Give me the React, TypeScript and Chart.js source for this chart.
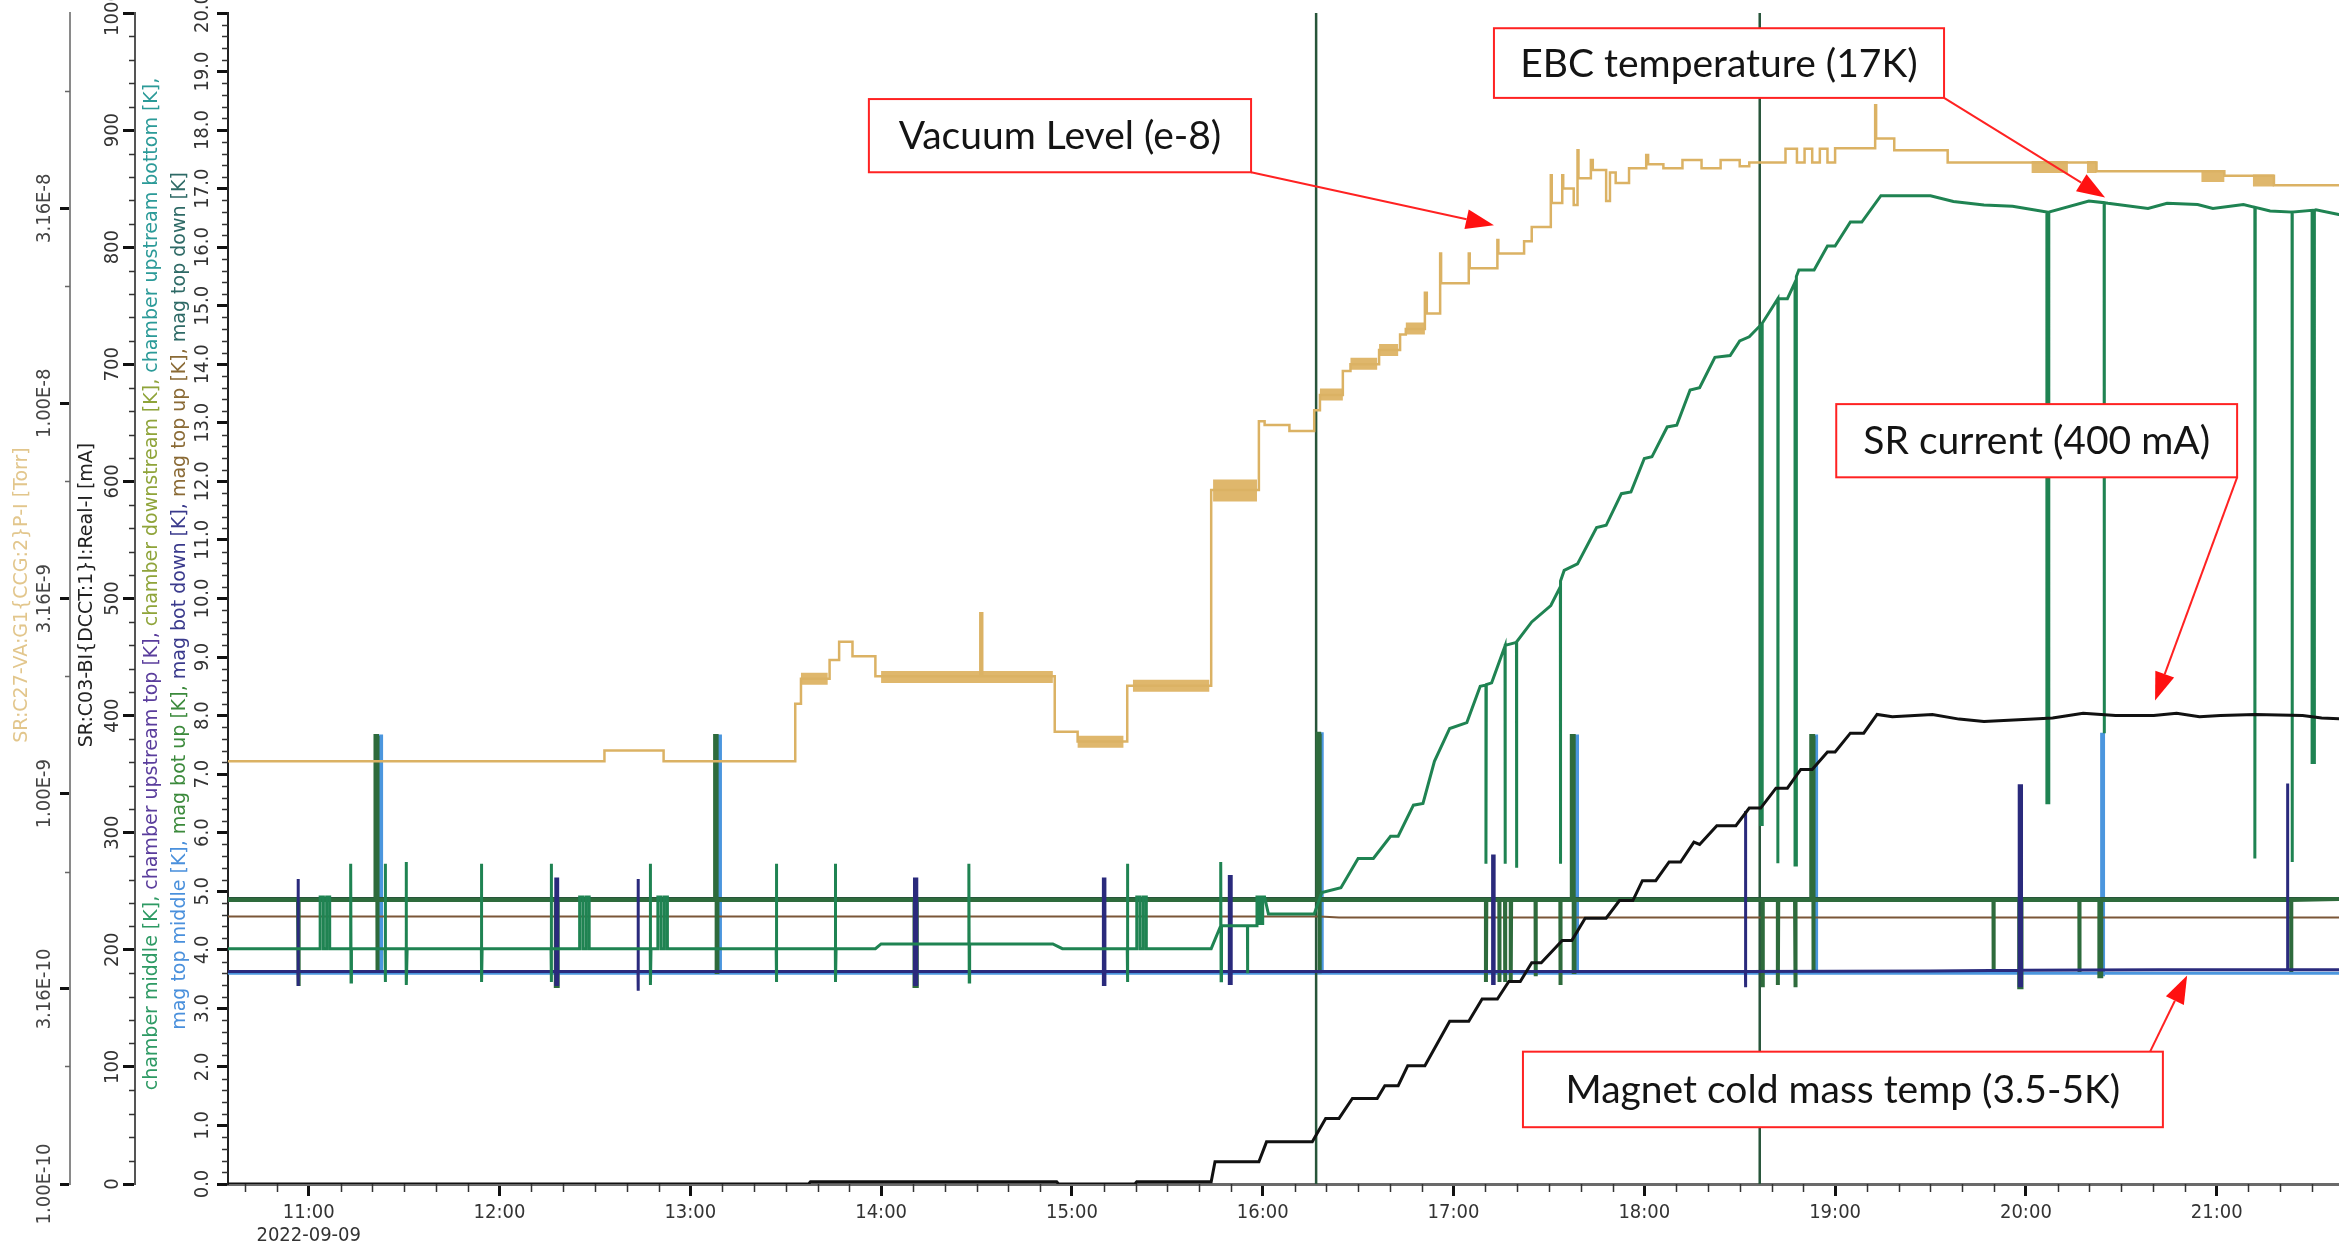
import { useEffect, useRef } from 'react';
import { Chart, registerables } from 'chart.js';

Chart.register(...registerables);

// ---------------- axes: ranges, ticks, labels ----------------
const X_MIN = 10.577; // hours of day
const X_MAX = 21.641;
const HOUR_TICKS = [11, 12, 13, 14, 15, 16, 17, 18, 19, 20, 21];
const HOUR_LABELS = ['11:00', '12:00', '13:00', '14:00', '15:00', '16:00', '17:00', '18:00', '19:00', '20:00', '21:00'];
const DATE_LABEL = '2022-09-09';

const VAC_MIN = 1e-10;
const VAC_MAX = 1e-7;
const VAC_TICKS = [1e-10, 3.16e-10, 1e-9, 3.16e-9, 1e-8, 3.16e-8];
const VAC_TICK_LABELS = ['1.00E-10', '3.16E-10', '1.00E-9', '3.16E-9', '1.00E-8', '3.16E-8'];
const VAC_MINOR = [2e-10, 6.31e-10, 2e-9, 6.31e-9, 2e-8, 6.31e-8];

const MA_TICKS = [0, 100, 200, 300, 400, 500, 600, 700, 800, 900, 1000];
const MA_TICK_LABELS = ['0', '100', '200', '300', '400', '500', '600', '700', '800', '900', '1000'];

const K_TICKS = [0, 1, 2, 3, 4, 5, 6, 7, 8, 9, 10, 11, 12, 13, 14, 15, 16, 17, 18, 19, 20];
const K_TICK_LABELS = ['0.0', '1.0', '2.0', '3.0', '4.0', '5.0', '6.0', '7.0', '8.0', '9.0', '10.0', '11.0', '12.0', '13.0', '14.0', '15.0', '16.0', '17.0', '18.0', '19.0', '20.0'];

const VAC_TITLE = 'SR:C27-VA:G1{CCG:2}P-I [Torr]';
const MA_TITLE = 'SR:C03-BI{DCCT:1}I:Real-I [mA]';
const K_TITLE_LINE1 = [
  ['chamber middle [K], ', '#2e9a64'],
  ['chamber upstream top [K], ', '#5a3d9c'],
  ['chamber downstream [K], ', '#8fa43a'],
  ['chamber upstream bottom [K],', '#2b9a98'],
];
const K_TITLE_LINE2 = [
  ['mag top middle [K], ', '#4a90dc'],
  ['mag bot up [K], ', '#3c8a3c'],
  ['mag bot down [K], ', '#3a3a8c'],
  ['mag top up [K], ', '#8a6a35'],
  ['mag top down [K]', '#2e6a66'],
];

// ---------------- series: [hour, value] ----------------
const SR_CURRENT = [
  [10.5, 0], [13.62, 0], [13.63, 2], [14.92, 2], [14.93, 0], [15.33, 0], [15.34, 2], [15.73, 2],
  [15.75, 19], [15.98, 19], [16.02, 36], [16.26, 36], [16.33, 56], [16.40, 56], [16.47, 73], [16.60, 73],
  [16.64, 84], [16.71, 84], [16.76, 101], [16.85, 101], [16.98, 139], [17.08, 139], [17.15, 158], [17.23, 158],
  [17.29, 173], [17.35, 173], [17.41, 189], [17.46, 189], [17.57, 208], [17.62, 208], [17.69, 227], [17.80, 227],
  [17.87, 242], [17.94, 242], [17.99, 259], [18.06, 259], [18.13, 275], [18.19, 275], [18.26, 292], [18.29, 290],
  [18.38, 306], [18.48, 306], [18.55, 321], [18.61, 321], [18.69, 338], [18.75, 338], [18.82, 354], [18.88, 354],
  [18.96, 369], [19.0, 369], [19.08, 385], [19.15, 385], [19.22, 401], [19.30, 399], [19.51, 401], [19.65, 397],
  [19.78, 395], [20.04, 397], [20.14, 398], [20.30, 402], [20.47, 400], [20.67, 400], [20.79, 402], [20.91, 399],
  [21.02, 400], [21.2, 401], [21.45, 400], [21.55, 398], [21.7, 397],
];

const CHAMBER_MIDDLE = [
  [10.5, 4.02],
  [11.06, 4.02], [11.06, 4.9], [11.077, 4.9], [11.077, 4.02], [11.094, 4.02], [11.094, 4.9], [11.11, 4.9], [11.11, 4.02],
  [11.22, 4.02], [11.22, 5.47], [11.222, 3.45], [11.224, 4.02],
  [11.40, 4.02], [11.40, 5.47], [11.402, 3.45], [11.404, 4.02],
  [11.51, 4.02], [11.51, 5.5], [11.513, 3.4], [11.516, 4.02],
  [11.905, 4.02], [11.905, 5.47], [11.907, 3.45], [11.909, 4.02],
  [12.27, 4.02], [12.27, 5.47], [12.272, 3.45], [12.274, 4.02],
  [12.42, 4.02], [12.42, 4.9], [12.437, 4.9], [12.437, 4.02], [12.454, 4.02], [12.454, 4.9], [12.47, 4.9], [12.47, 4.02],
  [12.79, 4.02], [12.79, 5.47], [12.792, 3.4], [12.794, 4.02],
  [12.83, 4.02], [12.83, 4.9], [12.847, 4.9], [12.847, 4.02], [12.864, 4.02], [12.864, 4.9], [12.88, 4.9], [12.88, 4.02],
  [13.45, 4.02], [13.45, 5.47], [13.452, 3.45], [13.454, 4.02],
  [13.76, 4.02], [13.76, 5.47], [13.762, 3.45], [13.764, 4.02],
  [13.97, 4.02], [14.0, 4.1],
  [14.46, 4.1], [14.46, 5.47], [14.462, 3.45], [14.464, 4.1],
  [14.9, 4.1], [14.95, 4.02],
  [15.29, 4.02], [15.29, 5.47], [15.292, 3.45], [15.294, 4.02],
  [15.34, 4.02], [15.34, 4.9], [15.357, 4.9], [15.357, 4.02], [15.374, 4.02], [15.374, 4.9], [15.39, 4.9], [15.39, 4.02],
  [15.73, 4.02], [15.78, 4.41], [15.78, 5.5], [15.782, 3.47], [15.784, 4.41],
  [15.92, 4.41], [15.92, 3.6], [15.922, 4.41],
  [15.97, 4.41], [15.97, 4.9], [15.985, 4.9], [15.985, 4.45], [16.0, 4.45], [16.0, 4.9], [16.01, 4.9], [16.03, 4.61],
  [16.27, 4.61], [16.31, 4.98], [16.41, 5.06], [16.50, 5.56], [16.58, 5.56], [16.67, 5.94], [16.71, 5.94],
  [16.79, 6.47], [16.84, 6.5], [16.90, 7.22], [16.98, 7.78], [17.07, 7.88], [17.14, 8.5],
  [17.17, 8.52], [17.17, 5.47], [17.172, 8.53],
  [17.20, 8.56], [17.27, 9.19], [17.27, 5.47], [17.272, 9.2],
  [17.33, 9.25], [17.33, 5.4], [17.332, 9.26],
  [17.41, 9.6], [17.51, 9.88],
  [17.56, 10.2], [17.56, 5.47], [17.562, 10.3],
  [17.58, 10.48], [17.65, 10.59], [17.75, 11.21], [17.80, 11.25], [17.88, 11.79], [17.93, 11.82], [18.0, 12.39],
  [18.04, 12.42], [18.12, 12.93], [18.17, 12.96], [18.24, 13.56], [18.29, 13.6], [18.37, 14.12], [18.45, 14.15],
  [18.5, 14.4], [18.55, 14.47],
  [18.61, 14.67], [18.61, 6.14], [18.618, 6.14], [18.618, 14.7],
  [18.70, 15.12], [18.70, 5.48], [18.702, 15.12],
  [18.75, 15.12],
  [18.79, 15.4], [18.79, 5.45], [18.797, 5.45], [18.797, 15.5],
  [18.81, 15.61], [18.89, 15.61], [18.96, 16.02], [19.0, 16.02], [19.08, 16.43], [19.14, 16.43], [19.24, 16.88],
  [19.5, 16.88], [19.62, 16.78], [19.78, 16.72], [19.93, 16.7], [20.11, 16.6],
  [20.11, 6.51], [20.12, 6.51], [20.12, 16.6],
  [20.33, 16.79], [20.41, 16.76], [20.41, 7.7], [20.412, 16.76],
  [20.43, 16.75], [20.64, 16.66], [20.74, 16.75], [20.9, 16.73], [20.98, 16.66], [21.14, 16.73],
  [21.2, 16.68], [21.2, 5.56], [21.202, 16.68],
  [21.28, 16.62], [21.395, 16.6], [21.395, 5.5], [21.397, 16.6],
  [21.5, 16.63], [21.5, 7.2], [21.512, 7.2], [21.512, 16.63], [21.52, 16.64], [21.64, 16.56], [21.7, 16.5],
];

const MAG_BOT_UP = [
  [10.5, 4.85],
  [10.944, 4.85], [10.944, 3.38], [10.949, 3.38], [10.949, 4.85],
  [11.35, 4.85], [11.35, 7.65], [11.358, 7.65], [11.358, 3.62], [11.362, 3.62], [11.362, 4.85],
  [12.295, 4.85], [12.295, 3.38], [12.305, 3.38], [12.305, 4.85],
  [13.13, 4.85], [13.13, 7.65], [13.138, 7.65], [13.138, 3.62], [13.142, 3.62], [13.142, 4.85],
  [14.175, 4.85], [14.175, 3.38], [14.187, 3.38], [14.187, 4.85],
  [16.288, 4.85], [16.288, 7.69], [16.296, 7.69], [16.296, 3.6], [16.3, 3.6], [16.3, 4.85],
  [17.17, 4.85], [17.17, 3.45], [17.172, 4.85],
  [17.24, 4.85], [17.24, 3.45], [17.242, 4.85],
  [17.27, 4.85], [17.27, 3.45], [17.272, 4.85],
  [17.30, 4.85], [17.30, 3.45], [17.302, 4.85],
  [17.43, 4.85], [17.43, 3.55], [17.432, 4.85],
  [17.56, 4.85], [17.56, 3.4], [17.562, 4.85],
  [17.62, 4.85], [17.62, 7.65], [17.63, 7.65], [17.63, 3.62], [17.634, 3.62], [17.634, 4.85],
  [18.62, 4.85], [18.62, 3.36], [18.622, 4.85],
  [18.70, 4.85], [18.70, 3.4], [18.702, 4.85],
  [18.79, 4.85], [18.79, 3.36], [18.794, 3.36], [18.794, 4.85],
  [18.875, 4.85], [18.875, 7.65], [18.885, 7.65], [18.885, 3.62], [18.888, 3.62], [18.888, 4.85],
  [19.83, 4.85], [19.83, 3.62], [19.832, 4.85],
  [19.965, 4.85], [19.965, 3.36], [19.977, 3.36], [19.977, 4.85],
  [20.28, 4.85], [20.28, 3.62], [20.282, 4.85],
  [20.385, 4.85], [20.385, 3.55], [20.395, 3.55], [20.395, 4.85],
  [21.39, 4.85], [21.39, 3.62], [21.392, 4.85],
  [21.7, 4.87],
];

const MAG_TOP_DOWN = [
  [10.5, 4.88], [16.28, 4.88], [16.28, -1], [16.28, 25], [16.28, 4.88],
  [18.605, 4.88], [18.605, -1], [18.605, 25], [18.605, 4.88], [21.7, 4.88],
];

const MAG_TOP_UP = [[10.5, 4.57], [16.3, 4.57], [16.4, 4.55], [21.7, 4.55]];

const MAG_BOT_DOWN = [
  [10.5, 3.63],
  [10.944, 3.63], [10.944, 3.38], [10.944, 5.21], [10.946, 5.21], [10.946, 3.63],
  [12.295, 3.63], [12.295, 3.38], [12.295, 5.21], [12.305, 5.21], [12.305, 3.38], [12.305, 3.63],
  [12.726, 3.63], [12.726, 3.3], [12.726, 5.21], [12.728, 5.21], [12.728, 3.63],
  [14.175, 3.63], [14.175, 3.38], [14.175, 5.21], [14.187, 5.21], [14.187, 3.38], [14.187, 3.63],
  [15.165, 3.63], [15.165, 3.38], [15.165, 5.21], [15.173, 5.21], [15.173, 3.38], [15.173, 3.63],
  [15.825, 3.63], [15.825, 3.4], [15.825, 5.25], [15.835, 5.25], [15.835, 3.4], [15.835, 3.63],
  [17.205, 3.63], [17.205, 3.4], [17.205, 5.6], [17.213, 5.6], [17.213, 3.4], [17.213, 3.63],
  [18.53, 3.63], [18.53, 3.36], [18.53, 6.37], [18.532, 6.37], [18.532, 3.63],
  [19.5, 3.64],
  [19.965, 3.65], [19.965, 3.36], [19.965, 6.8], [19.977, 6.8], [19.977, 3.36], [19.977, 3.65],
  [20.7, 3.66],
  [21.37, 3.66], [21.37, 6.84], [21.373, 6.84], [21.373, 3.66],
  [21.7, 3.66],
];

const MAG_TOP_MIDDLE = [
  [10.5, 3.6],
  [11.372, 3.6], [11.372, 7.65], [11.382, 7.65], [11.382, 3.6],
  [13.148, 3.6], [13.148, 7.65], [13.158, 7.65], [13.158, 3.6],
  [16.302, 3.6], [16.302, 7.69], [16.312, 7.69], [16.312, 3.6],
  [17.64, 3.6], [17.64, 7.65], [17.65, 7.65], [17.65, 3.6],
  [18.893, 3.6], [18.893, 7.65], [18.903, 7.65], [18.903, 3.6],
  [20.397, 3.6], [20.397, 7.68], [20.407, 7.68], [20.407, 3.55], [20.407, 3.6],
  [21.7, 3.6],
];

// vacuum (Torr), stepped: value holds until next point
const VACUUM = [
  [10.5, 1.21e-9], [12.55, 1.29e-9], [12.86, 1.21e-9], [13.55, 1.70e-9], [13.58, 1.97e-9], [13.73, 2.2e-9],
  [13.78, 2.45e-9], [13.85, 2.25e-9], [13.97, 2.0e-9], [14.52, 2.9e-9], [14.53, 2.0e-9], [14.91, 1.44e-9],
  [15.03, 1.36e-9], [15.29, 1.89e-9], [15.73, 6.0e-9], [15.98, 9.0e-9], [16.01, 8.8e-9], [16.14, 8.5e-9],
  [16.27, 9.6e-9], [16.30, 1.05e-8], [16.42, 1.21e-8], [16.46, 1.26e-8], [16.61, 1.37e-8], [16.72, 1.5e-8],
  [16.75, 1.55e-8], [16.85, 1.92e-8], [16.86, 1.7e-8], [16.93, 2.42e-8], [16.935, 2.03e-8], [17.08, 2.42e-8],
  [17.085, 2.22e-8], [17.23, 2.62e-8], [17.235, 2.42e-8], [17.37, 2.6e-8], [17.41, 2.83e-8], [17.51, 3.84e-8],
  [17.515, 3.26e-8], [17.57, 3.84e-8], [17.575, 3.55e-8], [17.63, 3.22e-8], [17.65, 4.45e-8], [17.655, 3.77e-8],
  [17.72, 4.2e-8], [17.73, 3.96e-8], [17.80, 3.3e-8], [17.82, 3.9e-8], [17.85, 3.67e-8], [17.92, 4.0e-8],
  [18.01, 4.33e-8], [18.02, 4.1e-8], [18.10, 4.0e-8], [18.2, 4.2e-8], [18.3, 4.0e-8], [18.4, 4.2e-8],
  [18.5, 4.05e-8], [18.55, 4.14e-8], [18.74, 4.49e-8], [18.80, 4.14e-8], [18.84, 4.49e-8], [18.88, 4.14e-8],
  [18.92, 4.49e-8], [18.96, 4.14e-8], [19.00, 4.5e-8], [19.21, 5.8e-8], [19.215, 4.77e-8], [19.31, 4.45e-8],
  [19.59, 4.14e-8], [20.37, 3.93e-8], [21.04, 3.83e-8], [21.30, 3.62e-8], [21.7, 3.62e-8],
];

// fast fluctuation bands of the vacuum reading: [from, to, low, high]
const VACUUM_BANDS = [
  [13.58, 13.72, 1.92e-9, 2.02e-9],
  [14.00, 14.90, 1.93e-9, 2.05e-9],
  [15.03, 15.27, 1.30e-9, 1.42e-9],
  [15.32, 15.72, 1.85e-9, 1.93e-9],
  [16.30, 16.42, 1.01e-8, 1.10e-8],
  [16.46, 16.60, 1.21e-8, 1.32e-8],
  [16.61, 16.71, 1.32e-8, 1.42e-8],
  [16.75, 16.85, 1.50e-8, 1.61e-8],
  [20.03, 20.22, 3.93e-8, 4.14e-8],
  [20.32, 20.37, 3.93e-8, 4.14e-8],
  [20.92, 21.04, 3.72e-8, 3.93e-8],
  [21.19, 21.30, 3.62e-8, 3.83e-8],
];
const VACUUM_WIDE_BANDS = [[15.74, 15.97, 5.5e-9, 6.5e-9]];

// ---------------- call-outs (hour, K coordinates) ----------------
const CALLOUTS = [
  { text: 'Vacuum Level (e-8)', box: [13.936, 18.53, 15.939, 17.28], from: [15.939, 17.28], to: [17.212, 16.376] },
  { text: 'EBC temperature (17K)', box: [17.212, 19.74, 19.571, 18.55], from: [19.571, 18.55], to: [20.415, 16.85] },
  { text: 'SR current (400 mA)', box: [19.006, 13.32, 21.107, 12.07], from: [21.107, 12.07], to: [20.677, 8.26] },
  { text: 'Magnet cold mass temp (3.5-5K)', box: [17.364, 2.26, 20.718, 0.97], from: [20.651, 2.26], to: [20.845, 3.56] },
];

// ---------------- helpers ----------------
const xy = (arr) => arr.map(([x, y]) => ({ x, y }));
const bandPoints = (bands) =>
  bands.flatMap(([t0, t1, lo, hi]) => {
    const m = Math.sqrt(lo * hi);
    return [{ x: t0, y: m }, { x: t1, y: m }, { x: t1, y: null }];
  });

const X_MINOR = [];
for (let h = 10; h <= 21; h++) {
  for (const m of [10, 20, 30, 40, 50]) {
    const v = h + m / 60;
    if (v > X_MIN && v < X_MAX) X_MINOR.push(v);
  }
}
const MA_MINOR = [];
for (let v = 20; v < 1000; v += 20) if (v % 100 !== 0) MA_MINOR.push(v);
const K_MINOR = [];
for (let i = 1; i < 100; i++) if (i % 5 !== 0) K_MINOR.push(i / 5);

const TICK_FAMILY = '"DejaVu Sans Condensed", "DejaVu Sans", sans-serif';
const TICK_FONT = `20px ${TICK_FAMILY}`;
const TITLE_FONT = '19px "DejaVu Sans"';
const CALLOUT_FONT = '39px Lato, "Open Sans", sans-serif';

function rotatedText(ctx, text, x, y, font, color) {
  ctx.save();
  ctx.translate(x, y);
  ctx.rotate(-Math.PI / 2);
  ctx.font = font;
  ctx.fillStyle = color;
  ctx.textAlign = 'center';
  ctx.textBaseline = 'middle';
  ctx.fillText(text, 0, 0);
  ctx.restore();
}

function rotatedMulti(ctx, parts, x, yCenter, font) {
  ctx.save();
  ctx.font = font;
  const widths = parts.map(([t]) => ctx.measureText(t).width);
  const total = widths.reduce((a, b) => a + b, 0);
  ctx.translate(x, yCenter);
  ctx.rotate(-Math.PI / 2);
  ctx.textAlign = 'left';
  ctx.textBaseline = 'middle';
  let pos = -total / 2;
  parts.forEach(([t, c], i) => {
    ctx.fillStyle = c;
    ctx.fillText(t, pos, 0);
    pos += widths[i];
  });
  ctx.restore();
}

function minorTicksLeft(ctx, scale, values, len, color, width) {
  ctx.save();
  ctx.strokeStyle = color;
  ctx.lineWidth = width;
  ctx.beginPath();
  for (const v of values) {
    const p = Math.round(scale.getPixelForValue(v)) + 0.5;
    ctx.moveTo(scale.right - len, p);
    ctx.lineTo(scale.right, p);
  }
  ctx.stroke();
  ctx.restore();
}

const decorPlugin = {
  id: 'decor',
  afterDraw(chart) {
    const ctx = chart.ctx;
    const { x, yVac, yI, yK } = chart.scales;

    // minor ticks
    minorTicksLeft(ctx, yVac, VAC_MINOR, 5, '#666', 1.5);
    minorTicksLeft(ctx, yI, MA_MINOR, 6, '#333', 1.5);
    minorTicksLeft(ctx, yK, K_MINOR, 6, '#333', 1.5);
    ctx.save();
    ctx.strokeStyle = '#333';
    ctx.lineWidth = 1.5;
    ctx.beginPath();
    for (const v of X_MINOR) {
      const p = Math.round(x.getPixelForValue(v)) + 0.5;
      ctx.moveTo(p, x.top);
      ctx.lineTo(p, x.top + 8);
    }
    ctx.stroke();
    ctx.restore();

    // tick labels
    VAC_TICKS.forEach((v, i) => rotatedText(ctx, VAC_TICK_LABELS[i], yVac.left + 45, yVac.getPixelForValue(v), TICK_FONT, '#444'));
    MA_TICKS.forEach((v, i) => rotatedText(ctx, MA_TICK_LABELS[i], yI.left + 43, yI.getPixelForValue(v), TICK_FONT, '#333'));
    K_TICKS.forEach((v, i) => rotatedText(ctx, K_TICK_LABELS[i], yK.left + 68, yK.getPixelForValue(v), TICK_FONT, '#333'));

    // axis titles
    rotatedText(ctx, VAC_TITLE, yVac.left + 22, 595, TITLE_FONT, '#e2c68c');
    rotatedText(ctx, MA_TITLE, yI.left + 17, 595, TITLE_FONT, '#222');
    rotatedMulti(ctx, K_TITLE_LINE1, yK.left + 17, 584, TITLE_FONT);
    rotatedMulti(ctx, K_TITLE_LINE2, yK.left + 45, 601, TITLE_FONT);

    // call-outs
    ctx.save();
    for (const c of CALLOUTS) {
      const x0 = x.getPixelForValue(c.box[0]);
      const y0 = yK.getPixelForValue(c.box[1]);
      const x1 = x.getPixelForValue(c.box[2]);
      const y1 = yK.getPixelForValue(c.box[3]);
      ctx.fillStyle = '#ffffff';
      ctx.fillRect(x0, y0, x1 - x0, y1 - y0);
      ctx.strokeStyle = '#ff2222';
      ctx.lineWidth = 2;
      ctx.strokeRect(x0, y0, x1 - x0, y1 - y0);
      ctx.fillStyle = '#141414';
      ctx.font = CALLOUT_FONT;
      ctx.textAlign = 'center';
      ctx.textBaseline = 'middle';
      ctx.fillText(c.text, (x0 + x1) / 2, (y0 + y1) / 2 + 1);

      const ax = x.getPixelForValue(c.from[0]);
      const ay = yK.getPixelForValue(c.from[1]);
      const bx = x.getPixelForValue(c.to[0]);
      const by = yK.getPixelForValue(c.to[1]);
      const ang = Math.atan2(by - ay, bx - ax);
      const head = 28;
      const hw = 10;
      const baseX = bx - head * Math.cos(ang);
      const baseY = by - head * Math.sin(ang);
      ctx.strokeStyle = '#ff2222';
      ctx.lineWidth = 2;
      ctx.beginPath();
      ctx.moveTo(ax, ay);
      ctx.lineTo(baseX, baseY);
      ctx.stroke();
      ctx.fillStyle = '#ff1111';
      ctx.beginPath();
      ctx.moveTo(bx, by);
      ctx.lineTo(baseX + hw * Math.sin(ang), baseY - hw * Math.cos(ang));
      ctx.lineTo(baseX - hw * Math.sin(ang), baseY + hw * Math.cos(ang));
      ctx.closePath();
      ctx.fill();
    }
    ctx.restore();
  },
};

const line = (label, data, yAxisID, color, width, extra = {}) => ({
  type: 'line',
  label,
  data,
  yAxisID,
  borderColor: color,
  backgroundColor: color,
  borderWidth: width,
  pointRadius: 0,
  tension: 0,
  fill: false,
  spanGaps: false,
  borderJoinStyle: 'miter',
  borderCapStyle: 'butt',
  ...extra,
});

const leftAxis = (weight, width, min, max, ticks, tickLength, borderColor, extra = {}) => ({
  type: 'linear',
  position: 'left',
  weight,
  min,
  max,
  afterBuildTicks: (s) => {
    s.ticks = ticks.map((v) => ({ value: v }));
  },
  afterFit: (s) => {
    s.width = width;
    s.paddingTop = 0;
    s.paddingBottom = 0;
  },
  ticks: { display: false },
  grid: {
    display: true,
    drawOnChartArea: false,
    drawTicks: true,
    tickLength,
    tickWidth: 3,
    tickColor: '#111',
  },
  border: { display: true, color: borderColor, width: 2 },
  ...extra,
});

export default function App() {
  const ref = useRef(null);
  useEffect(() => {
    const canvas = ref.current;
    const chart = new Chart(canvas, {
      type: 'line',
      data: {
        datasets: [
          line('SR:C03-BI{DCCT:1}I:Real-I [mA]', xy(SR_CURRENT), 'yI', '#111111', 3),
          line('chamber middle [K]', xy(CHAMBER_MIDDLE), 'yK', '#1f8352', 3),
          line(VAC_TITLE, xy(VACUUM), 'yVac', '#dbb264', 2.5, { stepped: true }),
          line('vacuum band', bandPoints(VACUUM_BANDS), 'yVac', '#dfb76c', 12),
          line('vacuum band wide', bandPoints(VACUUM_WIDE_BANDS), 'yVac', '#dfb76c', 22),
          line('mag bot down [K]', xy(MAG_BOT_DOWN), 'yK', '#2a2a7c', 3),
          line('mag bot up [K]', xy(MAG_BOT_UP), 'yK', '#2e6b3c', 4),
          line('mag top up [K]', xy(MAG_TOP_UP), 'yK', '#7b5637', 2),
          line('mag top down [K]', xy(MAG_TOP_DOWN), 'yK', '#27553a', 2.5),
          line('mag top middle [K]', xy(MAG_TOP_MIDDLE), 'yK', '#4b96de', 3),
        ],
      },
      options: {
        responsive: false,
        animation: false,
        events: [],
        devicePixelRatio: 1,
        layout: { autoPadding: false, padding: { top: 13, left: 0, right: 0, bottom: 0 } },
        plugins: { legend: { display: false }, tooltip: { enabled: false }, title: { display: false } },
        scales: {
          x: {
            type: 'linear',
            position: 'bottom',
            min: X_MIN,
            max: X_MAX,
            afterBuildTicks: (s) => {
              s.ticks = HOUR_TICKS.map((v) => ({ value: v }));
            },
            afterFit: (s) => {
              s.height = 64;
              s.paddingLeft = 0;
              s.paddingRight = 0;
            },
            ticks: {
              autoSkip: false,
              maxRotation: 0,
              minRotation: 0,
              padding: 5,
              color: '#333',
              font: { family: TICK_FAMILY, size: 20, lineHeight: 1.15 },
              callback: (v) => {
                const i = HOUR_TICKS.indexOf(v);
                const lab = i >= 0 ? HOUR_LABELS[i] : '';
                return i === 0 ? [lab, DATE_LABEL] : lab;
              },
            },
            grid: { display: true, drawOnChartArea: false, drawTicks: true, tickLength: 12, tickWidth: 3, tickColor: '#111' },
            border: { display: true, color: '#6a6a6a', width: 3 },
          },
          yVac: leftAxis(3, 70, VAC_MIN, VAC_MAX, VAC_TICKS, 10, '#8a8a8a', { type: 'logarithmic' }),
          yI: leftAxis(2, 65, 0, 1000, MA_TICKS, 12, '#555555'),
          yK: leftAxis(1, 93, 0, 20, K_TICKS, 11, '#222222'),
        },
      },
      plugins: [decorPlugin],
    });
    return () => chart.destroy();
  }, []);
  return (
    <div style={{ position: 'fixed', left: 0, top: 0, width: 2339, height: 1248, background: '#fff' }}>
      <canvas ref={ref} width={2339} height={1248} style={{ display: 'block', width: 2339, height: 1248 }} />
    </div>
  );
}
